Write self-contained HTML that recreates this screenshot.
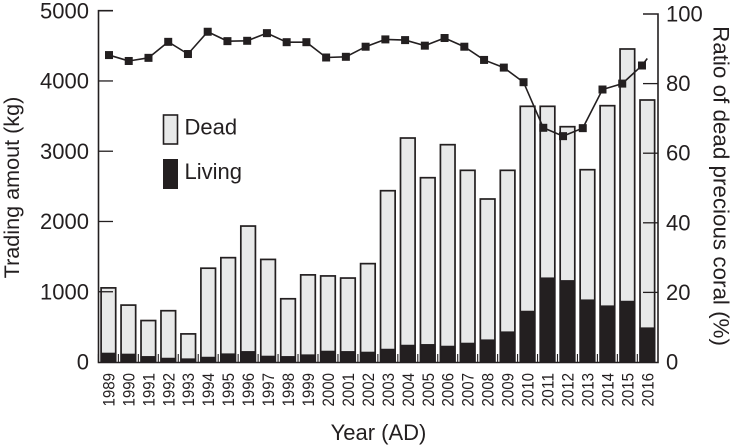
<!DOCTYPE html>
<html lang="en">
<head>
<meta charset="utf-8">
<title>Trading amount of precious coral</title>
<style>
html,body{margin:0;padding:0;background:#fff;width:733px;height:448px;overflow:hidden}
svg{display:block}
text{font-family:"Liberation Sans",Arial,sans-serif;fill:#231f20}
</style>
</head>
<body>
<svg id="chart" width="733" height="448" viewBox="0 0 733 448" xmlns="http://www.w3.org/2000/svg">
  <g id="bars"></g>
  <g id="axes"></g>
  <g id="line"></g>
  <text x="378.5" y="440" font-size="22" text-anchor="middle">Year (AD)</text>
  <text transform="translate(19,187.5) rotate(-90)" font-size="21.6" text-anchor="middle">Trading amout (kg)</text>
  <text transform="translate(713.5,186) rotate(90)" font-size="22.4" text-anchor="middle">Ratio of dead precious coral (%)</text>
  <g>
    <rect x="163.5" y="115" width="14" height="29" fill="#e8e9e9" stroke="#231f20" stroke-width="1.6"/>
    <text x="184.5" y="134.5" font-size="22">Dead</text>
    <rect x="163.5" y="159.5" width="14" height="29" fill="#231f20" stroke="#231f20" stroke-width="1"/>
    <text x="184.5" y="179" font-size="22">Living</text>
  </g>
</svg>
<script>
const years = [1989,1990,1991,1992,1993,1994,1995,1996,1997,1998,1999,2000,2001,2002,2003,2004,2005,2006,2007,2008,2009,2010,2011,2012,2013,2014,2015,2016];
const totalKg = [1055,810,590,730,400,1335,1485,1935,1460,900,1240,1225,1195,1400,2438,3188,2623,3093,2728,2320,2728,3639,3639,3349,2737,3648,4455,3729];
const livingKg = [124,110,76,52,43,66,114,147,81,76,100,152,147,138,180,237,247,223,266,313,427,721,1195,1157,882,797,863,484];
const deadRatio = [88.2,86.5,87.4,92,88.5,94.9,92.2,92.3,94.5,91.9,91.9,87.5,87.7,90.6,92.7,92.5,90.9,93.1,90.6,86.8,84.6,80.4,67.3,64.9,67.2,78.3,80,85.2];
const lineTailRatio = 87.2;
const leftTicks = [0,1000,2000,3000,4000,5000];
const rightTicks = [0,20,40,60,80,100];

const NS = 'http://www.w3.org/2000/svg';
const INK = '#231f20';
const yLeft = v => 362 - v * 0.07026;
const yRight = v => 362 - v * 3.48;
const xBar = i => 108.4 + i * 19.96;
const xMark = i => 109 + i * 19.74;

function el(parent, tag, attrs, txt) {
  const n = document.createElementNS(NS, tag);
  for (const k in attrs) n.setAttribute(k, attrs[k]);
  if (txt !== undefined) n.textContent = txt;
  parent.appendChild(n);
  return n;
}

const barsG = document.getElementById('bars');
const axesG = document.getElementById('axes');
const lineG = document.getElementById('line');
const BAR_W = 14.6;

years.forEach((yr, i) => {
  const x = xBar(i) - BAR_W / 2;
  const dead = el(barsG, 'rect', {x: x, y: yLeft(totalKg[i]), width: BAR_W, height: 362 - yLeft(totalKg[i]), fill: '#e8e9e9', stroke: INK, 'stroke-width': 1.7});
  
  
  const live = el(barsG, 'rect', {x: x, y: yLeft(livingKg[i]), width: BAR_W, height: 362 - yLeft(livingKg[i]), fill: INK, stroke: INK, 'stroke-width': 1.2});
  
  

  const tick = el(axesG, 'line', {x1: xBar(i) - 9.98, x2: xBar(i) - 9.98, y1: 354, y2: 362, stroke: INK, 'stroke-width': 1.1});
  
  

  const lab = el(axesG, 'text', {transform: 'translate(' + (xBar(i) + 6) + ',406.5) rotate(-90)', 'font-size': 17, textLength: 33.5, lengthAdjust: 'spacingAndGlyphs'}, yr);
  
  
});

const leftSpine = el(axesG, 'path', {d: 'M113 ' + yLeft(5000) + 'H98.5V362.5H658V' + yRight(100) + 'H643', fill: 'none', stroke: INK, 'stroke-width': 1.6});



leftTicks.forEach(t => {
  const y = yLeft(t);
  if (t > 0 && t < 5000) {
    const k = el(axesG, 'line', {x1: 98.5, x2: 113, y1: y, y2: y, stroke: INK, 'stroke-width': 1.3});
    
    
  }
  const l = el(axesG, 'text', {x: 89, y: y + 7.7, 'font-size': 22, 'text-anchor': 'end'}, t);
  
  
});

rightTicks.forEach(t => {
  const y = yRight(t);
  if (t > 0 && t < 100) {
    const k = el(axesG, 'line', {x1: 643, x2: 658, y1: y, y2: y, stroke: INK, 'stroke-width': 1.3});
    
    
  }
  const l = el(axesG, 'text', {x: 666, y: y + 7.5, 'font-size': 22}, t);
  
  
});

const pts = deadRatio.map((v, i) => xMark(i) + ',' + yRight(v));
pts.push((xMark(deadRatio.length - 1) + 5.3) + ',' + yRight(lineTailRatio));
const poly = el(lineG, 'polyline', {points: pts.join(' '), fill: 'none', stroke: INK, 'stroke-width': 1.6});



deadRatio.forEach((v, i) => {
  const m = el(lineG, 'rect', {x: xMark(i) - 4, y: yRight(v) - 4, width: 8, height: 8, fill: INK});
  
  
});
</script>
</body>
</html>
